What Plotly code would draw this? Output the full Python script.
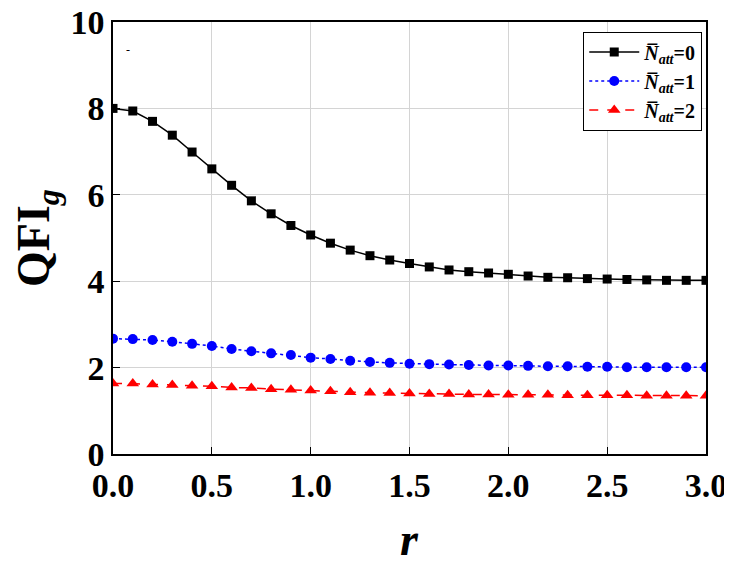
import plotly.graph_objects as go

# r values 0.0 .. 3.0 step 0.1
r = [round(0.1 * i, 1) for i in range(31)]

qfi_n0 = [8.00, 7.94, 7.70, 7.38, 6.99, 6.60, 6.22, 5.86, 5.56, 5.29,
          5.07, 4.88, 4.72, 4.59, 4.49, 4.41, 4.33, 4.26, 4.22, 4.19,
          4.16, 4.12, 4.09, 4.08, 4.06, 4.05, 4.04, 4.03, 4.02, 4.02, 4.02]
qfi_n1 = [2.67, 2.66, 2.64, 2.60, 2.55, 2.50, 2.43, 2.38, 2.33, 2.29,
          2.23, 2.20, 2.16, 2.13, 2.11, 2.09, 2.08, 2.07, 2.06, 2.05,
          2.05, 2.04, 2.03, 2.03, 2.02, 2.02, 2.01, 2.01, 2.01, 2.01, 2.01]
qfi_n2 = [1.63, 1.63, 1.61, 1.60, 1.58, 1.57, 1.54, 1.53, 1.50, 1.49,
          1.47, 1.45, 1.43, 1.42, 1.41, 1.40, 1.39, 1.39, 1.38, 1.38,
          1.37, 1.37, 1.37, 1.36, 1.36, 1.36, 1.36, 1.35, 1.35, 1.35, 1.35]

labels = [
    "<b><i>N\u0305</i><sub><i>att</i></sub>=0</b>",
    "<b><i>N\u0305</i><sub><i>att</i></sub>=1</b>",
    "<b><i>N\u0305</i><sub><i>att</i></sub>=2</b>",
]

FONT = "Liberation Serif, Times New Roman, serif"

fig = go.Figure()
fig.add_trace(go.Scatter(
    x=r, y=qfi_n0, mode="lines+markers", name=labels[0],
    line=dict(color="black", width=1.5),
    marker=dict(symbol="square", size=9, color="black"),
))
fig.add_trace(go.Scatter(
    x=r, y=qfi_n1, mode="lines+markers", name=labels[1],
    line=dict(color="blue", width=1.5, dash="dot"),
    marker=dict(symbol="circle", size=10, color="blue"),
))
fig.add_trace(go.Scatter(
    x=r, y=qfi_n2, mode="lines+markers", name=labels[2],
    line=dict(color="red", width=1.5, dash="dash"),
    marker=dict(symbol="triangle-up", size=11, color="red"),
))

axis_common = dict(
    showline=True, linecolor="black", linewidth=1.5, mirror=True,
    ticks="inside", ticklen=7, tickwidth=1.2, tickcolor="black",
    showgrid=True, gridcolor="#d4d4d4", gridwidth=1,
    zeroline=False, automargin=False, ticklabeloverflow="allow",
    tickfont=dict(family=FONT, size=34, color="black", weight="bold"),
)

fig.update_xaxes(
    range=[0, 3], tickvals=[0, 0.5, 1.0, 1.5, 2.0, 2.5, 3.0],
    ticktext=["0.0", "0.5", "1.0", "1.5", "2.0", "2.5", "3.0"],
    **axis_common,
)
fig.update_yaxes(
    range=[0, 10], tickvals=[0, 2, 4, 6, 8, 10],
    title=dict(text="<b>QFI<sub><i>g</i></sub></b>", font=dict(family=FONT, size=46, color="black"),
               standoff=12),
    **axis_common,
)

# x-axis title placed as an annotation so it can sit lower than plotly's default
fig.add_annotation(
    x=0.5, y=-0.198, xref="paper", yref="paper", text="<b><i>r</i></b>",
    showarrow=False, xanchor="center", yanchor="middle",
    font=dict(family=FONT, size=46, color="black"),
)

# small stray dash near the top-left corner of the frame
fig.add_annotation(
    x=0.019, y=0.955, xref="paper", yref="paper", text="-", showarrow=False,
    font=dict(family=FONT, size=12, color="black"),
)

# page body adds an 8px offset, so the figure is sized/margined to compensate
fig.update_layout(
    width=724, height=548,
    margin=dict(l=105, r=26, t=14, b=102),
    paper_bgcolor="white", plot_bgcolor="white",
    font=dict(family=FONT, color="black"),
    legend=dict(
        x=0.793, y=0.978, xanchor="left", yanchor="top",
        bordercolor="black", borderwidth=1, bgcolor="white",
        font=dict(family=FONT, size=20, color="black"),
        tracegroupgap=0, itemwidth=50,
    ),
)

fig.write_html("out.html")
